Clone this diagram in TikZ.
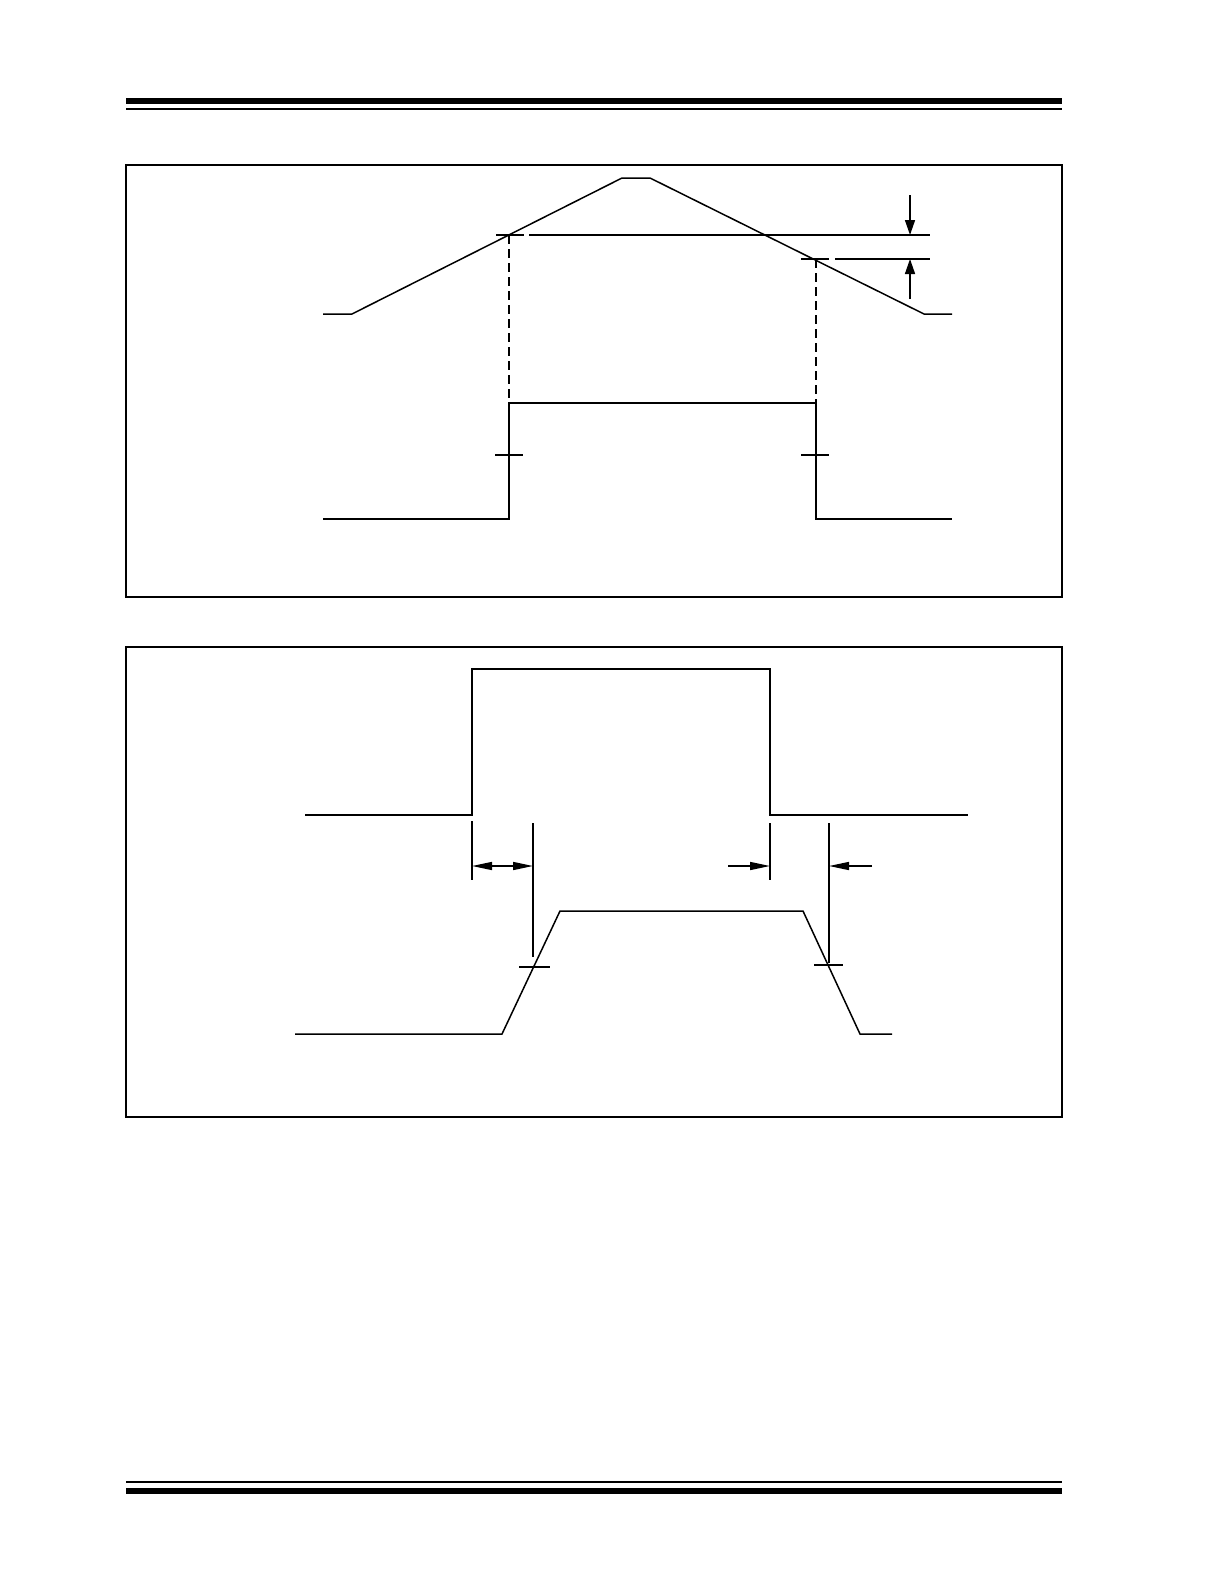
\documentclass[tikz,border=0pt]{standalone}
\usetikzlibrary{arrows.meta}
\begin{document}
\begin{tikzpicture}[x=1pt,y=-1pt,line width=1.5pt,line join=miter,
  dashedGuide/.style={dash pattern=on 9pt off 5pt},
  hysTip/.style={-{Triangle[length=15pt,width=10pt]}},
  delayTip/.style={-{Triangle[length=20pt,width=8pt]}},
  delayBoth/.style={{Triangle[length=20pt,width=8pt]}-{Triangle[length=20pt,width=8pt]}}]
  % page
  \useasboundingbox (0,0) rectangle (1224,1584);

  % header and footer rules
  \fill (126,98) rectangle (1062,104);
  \fill (126,108) rectangle (1062,110);
  \fill (126,1480.5) rectangle (1062,1482.5);
  \fill (126,1488) rectangle (1062,1494);

  % frames
  \draw (126,165) rectangle (1062,597);
  \draw (126,647) rectangle (1062,1117);

  % input ramp
  \coordinate (inStart)   at (323,314);
  \coordinate (inRise)    at (352,314);
  \coordinate (inTopL)    at (622,178);
  \coordinate (inTopR)    at (650,178);
  \coordinate (inFall)    at (924,314);
  \coordinate (inEnd)     at (952,314);
  \draw (inStart) -- (inRise) -- (inTopL) -- (inTopR) -- (inFall) -- (inEnd);

  % trip points
  \coordinate (tripHi) at (509,235);
  \coordinate (tripLo) at (816,259);
  \draw (496,235) -- (524,235);
  \draw (529,235) -- (930,235);
  \draw (801,259) -- (829,259);
  \draw (835,259) -- (930,259);

  % hysteresis
  \coordinate (hysTop) at (910,195);
  \coordinate (hysBot) at (910,299);
  \draw[hysTip] (hysTop) -- (910,235);
  \draw[hysTip] (hysBot) -- (910,259);

  % output
  \coordinate (outStart) at (323,519);
  \coordinate (outUp)    at (509,519);
  \coordinate (outHiL)   at (509,403);
  \coordinate (outHiR)   at (816,403);
  \coordinate (outDown)  at (816,519);
  \coordinate (outEnd)   at (952,519);
  \draw (outStart) -- (outUp) -- (outHiL) -- (outHiR) -- (outDown) -- (outEnd);
  \draw (495,455) -- (523,455);
  \draw (801,455) -- (829,455);

  % guides
  \draw[dashedGuide] (tripHi) -- (outHiL);
  \draw[dashedGuide] (tripLo) -- (outHiR);

  % enable pulse
  \coordinate (enStart) at (305,815);
  \coordinate (enUp)    at (472,815);
  \coordinate (enHiL)   at (472,669);
  \coordinate (enHiR)   at (770,669);
  \coordinate (enDown)  at (770,815);
  \coordinate (enEnd)   at (968,815);
  \draw (enStart) -- (enUp) -- (enHiL) -- (enHiR) -- (enDown) -- (enEnd);

  % response
  \coordinate (rsStart) at (295,1034);
  \coordinate (rsRise)  at (502,1034);
  \coordinate (rsHiL)   at (560,911);
  \coordinate (rsHiR)   at (803,911);
  \coordinate (rsFall)  at (860,1034);
  \coordinate (rsEnd)   at (892,1034);
  \draw (rsStart) -- (rsRise) -- (rsHiL) -- (rsHiR) -- (rsFall) -- (rsEnd);
  \draw (519,967) -- (550,967);
  \draw (814,965) -- (843,965);

  % delay markers
  \coordinate (onRef)  at (472,866);
  \coordinate (onMid)  at (533,866);
  \coordinate (offRef) at (770,866);
  \coordinate (offMid) at (829,866);
  \draw (472,821) -- (472,880);
  \draw (533,823) -- (533,957);
  \draw (770,823) -- (770,880);
  \draw (829,823) -- (829,963);
  \draw[delayBoth] (onRef) -- (onMid);
  \draw[delayTip] (728,866) -- (offRef);
  \draw[delayTip] (872,866) -- (offMid);
\end{tikzpicture}
\end{document}
